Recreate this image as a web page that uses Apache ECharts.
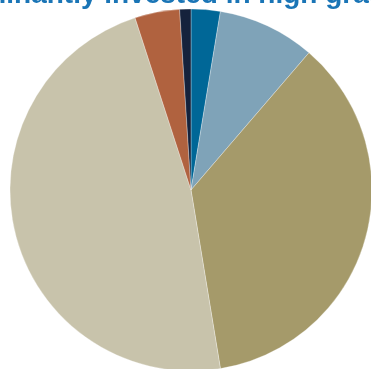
<!DOCTYPE html>
<html>
<head>
<meta charset="utf-8">
<script src="https://cdn.jsdelivr.net/npm/echarts@6/dist/echarts.min.js"></script>
<style>
  html, body { margin: 0; padding: 0; background: #fff; }
  #pieDiv { width: 371px; height: 369px; }
</style>
</head>
<body>
<div id="pieDiv"></div>
<script>
// slice names and shares (%), clockwise from 12 o'clock
const sliceNames = ['Blue', 'Light blue', 'Khaki', 'Beige', 'Brown', 'Navy']
const sliceValues = [2.6, 8.7, 36.1, 47.6, 4.0, 1.0]
const sliceColors = ['#006797', '#7fa3b8', '#a59a6a', '#c8c3ab', '#b0623f', '#15223c']
const titleText = 'Predominantly invested in high grade'

const pieChart = echarts.init(document.getElementById('pieDiv'))

const option = {
  animation: false,
  graphic: [
    {
      type: 'text',
      left: -98,
      top: -19,
      style: {
        text: titleText,
        font: 'bold 28px "Liberation Sans", Arial, sans-serif',
        fill: '#1a75b6'
      }
    }
  ],
  series: [
    {
      type: 'pie',
      center: [191, 190],
      radius: [0, 181],
      startAngle: 90,
      clockwise: true,
      label: { show: false },
      labelLine: { show: false },
      itemStyle: {
        borderColor: '#ffffff',
        borderWidth: 0.3
      },
      data: sliceNames.map((name, i) => ({
        name: name,
        value: sliceValues[i],
        itemStyle: { color: sliceColors[i] }
      }))
    }
  ]
}

pieChart.setOption(option)
</script>
</body>
</html>
